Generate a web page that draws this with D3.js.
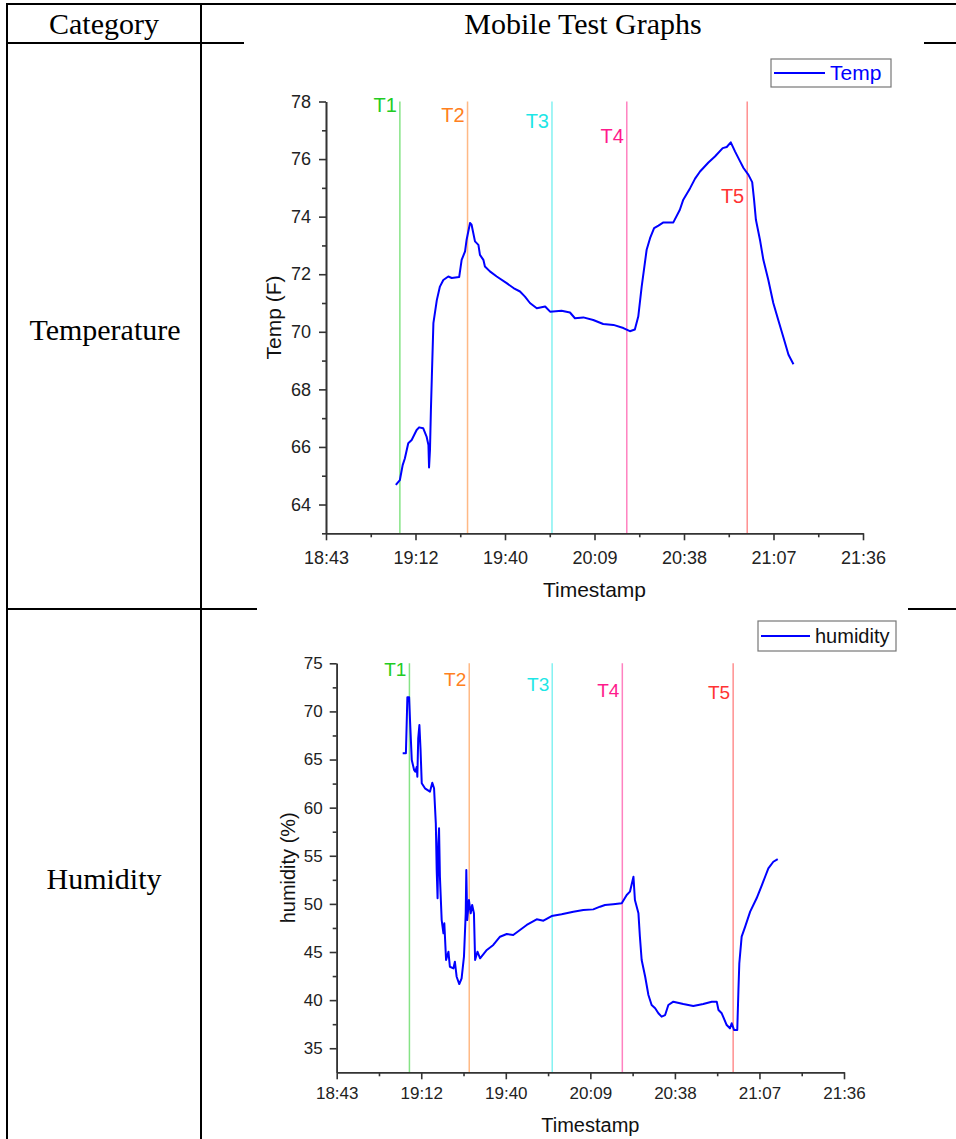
<!DOCTYPE html>
<html>
<head>
<meta charset="utf-8">
<script src="https://cdn.jsdelivr.net/npm/d3@7"></script>
<style>
  body { margin: 0; background: #fff; }
  svg { display: block; }
</style>
</head>
<body>
<div class="canvas"></div>
<script>
// time axis: minutes after 18:43
const spanMin = 173
const tickLabels = ['18:43', '19:12', '19:40', '20:09', '20:38', '21:07', '21:36']

const markNames = ['T1', 'T2', 'T3', 'T4', 'T5']
const markColors = ['#22cc22', '#ff8020', '#1ee6e6', '#ff1a8c', '#ff3333']
const tempMarkMin = [23.8, 45.6, 72.8, 96.9, 135.7]
const humMarkMin = [24.8, 45.2, 73.5, 97.4, 135.2]
// label baselines, in data units
const tempMarkLabelY = [77.64, 77.3, 77.09, 76.57, 74.49]
const humMarkLabelY = [73.68, 72.64, 72.12, 71.5, 71.3]

const tempMin = [22.5, 23.8, 24.7, 25.4, 26.5, 27.6, 29.2, 30.0, 31.3, 32.4, 33.0, 33.2, 33.5, 33.8, 34.1, 34.6,
  35.7, 36.7, 37.8, 39.4, 40.5, 42.9, 43.7, 44.8, 45.3, 46.4, 46.9, 48.0, 49.1, 49.6, 50.7, 51.2, 52.8,
  55.0, 58.2, 60.4, 62.5, 64.1, 65.7, 67.9, 70.6, 72.2, 75.9, 78.6, 80.2, 82.9, 86.1, 89.3, 92.6, 95.8,
  97.9, 99.5, 100.6, 101.7, 103.3, 104.4, 105.7, 107.1, 108.7, 111.9, 114.0, 115.1, 117.3, 118.9, 120.5,
  123.2, 125.3, 127.8, 129.1, 130.4, 131.8, 133.4, 134.5, 136.1, 137.3, 137.9, 138.5, 139.8, 140.9,
  142.5, 144.1, 145.7, 147.3, 149.0, 150.6]
const tempVal = [64.68, 64.85, 65.37, 65.6, 66.13, 66.24, 66.59, 66.68, 66.65, 66.36, 66.07, 65.29, 65.9, 67.29, 68.44, 70.3,
  71.1, 71.57, 71.8, 71.92, 71.87, 71.9, 72.5, 72.79, 73.2, 73.78, 73.72, 73.14, 73.02, 72.67, 72.5, 72.27, 72.1,
  71.92, 71.69, 71.52, 71.4, 71.22, 71.0, 70.82, 70.88, 70.7, 70.73, 70.67, 70.47, 70.5, 70.41, 70.27, 70.24, 70.13,
  70.02, 70.08, 70.53, 71.57, 72.85, 73.25, 73.6, 73.69, 73.8, 73.8, 74.24, 74.59, 74.99, 75.32, 75.57,
  75.88, 76.09, 76.38, 76.42, 76.58, 76.26, 75.92, 75.69, 75.45, 75.2, 74.59, 73.89, 73.2, 72.5,
  71.8, 71.0, 70.41, 69.83, 69.2, 68.87]

const humMin = [22.5, 23.6, 23.9, 24.1, 24.7, 25.0, 25.6, 26.4, 26.8, 27.3, 27.5, 27.8, 28.2, 28.6, 29.0, 30.1,
  31.8, 32.6, 33.2, 33.8, 34.1, 34.4, 34.65, 34.9, 35.2, 35.8, 36.4, 36.7, 37.3, 38.1, 38.6, 39.8, 40.3,
  40.9, 41.8, 42.6, 43.4, 44.0, 44.2, 44.5, 45.1, 45.7, 46.2, 46.8, 47.2, 48.0, 48.9, 51.2, 53.4, 55.7,
  58.0, 60.2, 62.5, 64.8, 68.2, 70.5, 73.3, 76.7, 80.7, 84.1, 87.5, 89.8, 91.5, 94.3, 97.2, 98.9, 100.0,
  100.8, 101.2, 101.7, 102.9, 103.4, 104.0, 105.2, 106.3, 107.4, 108.6, 109.7, 110.8, 112.0, 113.1,
  114.8, 118.2, 121.6, 125.0, 127.9, 129.6, 130.2, 131.3, 133.0, 134.1, 134.7, 135.5, 136.6, 137.0,
  137.3, 138.1, 139.3, 141.0, 143.2, 145.0, 146.1, 147.2, 148.9, 150.4]
const humVal = [65.65, 65.65, 69.1, 71.46, 71.46, 69.1, 64.95, 63.91, 63.73, 64.25, 63.21, 67.2, 68.59, 65.99, 62.53, 62.01,
  61.66, 62.59, 62.01, 58.37, 53.52, 50.58, 56.29, 57.85, 52.82, 48.32, 46.94, 47.98, 44.17, 45.03, 43.47, 43.3, 43.99,
  42.43, 41.67, 42.27, 44.51, 49.02, 53.52, 48.32, 50.4, 49.02, 49.88, 49.02, 44.17, 45.03, 44.35, 45.21, 45.73, 46.59,
  46.87, 46.77, 47.29, 47.81, 48.4, 48.25, 48.74, 48.92, 49.19, 49.36, 49.43, 49.71, 49.88, 49.96, 50.06, 50.92, 51.27,
  52.3, 52.82, 50.4, 49.02, 46.59, 44.17, 42.43, 40.53, 39.49, 39.15, 38.63, 38.28, 38.45, 39.49,
  39.84, 39.6, 39.39, 39.6, 39.84, 39.84, 38.97, 38.63, 37.41, 37.07, 37.59, 36.9, 36.9, 41.05,
  43.83, 46.59, 47.63, 49.19, 50.58, 51.96, 52.82, 53.7, 54.38, 54.66]

const width = 956
const height = 1139

const svg = d3.select('.canvas')
  .append('svg')
  .attr('width', width)
  .attr('height', height)

svg.append('rect').attr('width', width).attr('height', height).attr('fill', '#fff')

// table grid
const grid = svg.append('g')
  .attr('stroke', '#000')
  .attr('stroke-width', 2)
const seg = (x1, y1, x2, y2) => grid.append('line')
  .attr('x1', x1).attr('y1', y1).attr('x2', x2).attr('y2', y2)
seg(6, 4, 956, 4)
seg(7, 4, 7, 1139)
seg(201, 4, 201, 1139)
seg(6, 43, 244, 43)
seg(924, 43, 956, 43)
seg(6, 609, 257, 609)
seg(908, 609, 956, 609)

const serif = "'Liberation Serif', 'Times New Roman', serif"
const cell = (txt, x, y) => svg.append('text')
  .attr('x', x).attr('y', y)
  .attr('text-anchor', 'middle')
  .attr('font-family', serif)
  .attr('font-size', 30)
  .attr('fill', '#000')
  .text(txt)
cell('Category', 104, 34)
cell('Mobile Test Graphs', 583, 34)
cell('Temperature', 105, 340)
cell('Humidity', 104, 889)

const sans = "'Liberation Sans', Arial, sans-serif"

const drawPanel = cfg => {
  const g = svg.append('g')
  const x = d3.scaleLinear().domain([0, spanMin]).range([cfg.left, cfg.right])
  const y = d3.scaleLinear().domain(cfg.yDomain).range([cfg.bottom, cfg.top])

  // marker lines
  cfg.marks.forEach((m, i) => {
    g.append('line')
      .attr('x1', x(m)).attr('x2', x(m))
      .attr('y1', y(cfg.yDomain[1])).attr('y2', y(cfg.yDomain[0]))
      .attr('stroke', markColors[i])
      .attr('stroke-opacity', 0.55)
      .attr('stroke-width', 1.5)
    g.append('text')
      .attr('x', x(m) - 3)
      .attr('y', y(cfg.labelY[i]))
      .attr('text-anchor', 'end')
      .attr('font-family', sans)
      .attr('font-size', cfg.fs.mark)
      .attr('fill', markColors[i])
      .text(markNames[i])
  })

  const major = tickLabels.map((d, i) => i * spanMin / 6)
  const minor = major.slice(0, -1).map(d => d + spanMin / 12)

  const styleAxis = a => {
    a.select('.domain').attr('stroke', '#333').attr('stroke-width', 1.6)
    a.selectAll('.tick line').attr('stroke', '#333').attr('stroke-width', 1.6)
    a.selectAll('text').attr('fill', '#222').attr('font-family', sans).attr('font-size', cfg.fs.tick)
  }

  g.append('g')
    .attr('transform', `translate(0, ${cfg.bottom})`)
    .call(d3.axisBottom(x).tickValues(minor).tickSize(4).tickSizeOuter(0).tickFormat(''))
    .call(styleAxis)
  g.append('g')
    .attr('transform', `translate(0, ${cfg.bottom})`)
    .call(d3.axisBottom(x).tickValues(major).tickSize(7).tickSizeOuter(0)
      .tickPadding(cfg.xPad).tickFormat((d, i) => tickLabels[i]))
    .call(styleAxis)

  g.append('g')
    .attr('transform', `translate(${cfg.left}, 0)`)
    .call(d3.axisLeft(y).tickValues(cfg.yMinor).tickSize(4).tickSizeOuter(0).tickFormat(''))
    .call(styleAxis)
  g.append('g')
    .attr('transform', `translate(${cfg.left}, 0)`)
    .call(d3.axisLeft(y).tickValues(cfg.yMajor).tickSize(7).tickSizeOuter(0).tickPadding(cfg.yPad))
    .call(styleAxis)

  // data line
  const pts = cfg.xs.map((t, i) => [t, cfg.ys[i]])
  g.append('path')
    .datum(pts)
    .attr('fill', 'none')
    .attr('stroke', '#0000ff')
    .attr('stroke-width', 2)
    .attr('stroke-linejoin', 'round')
    .attr('d', d3.line().x(d => x(d[0])).y(d => y(d[1])))

  // axis titles
  g.append('text')
    .attr('x', (cfg.left + cfg.right) / 2)
    .attr('y', cfg.xTitleY)
    .attr('text-anchor', 'middle')
    .attr('font-family', sans)
    .attr('font-size', cfg.fs.title)
    .attr('fill', '#111')
    .text('Timestamp')
  g.append('text')
    .attr('transform', `translate(${cfg.yTitleX}, ${(cfg.top + cfg.bottom) / 2}) rotate(-90)`)
    .attr('text-anchor', 'middle')
    .attr('dy', '0.35em')
    .attr('font-family', sans)
    .attr('font-size', cfg.fs.title)
    .attr('fill', '#111')
    .text(cfg.yTitle)

  // legend
  const lg = cfg.legend
  g.append('rect')
    .attr('x', lg.x).attr('y', lg.y)
    .attr('width', lg.w).attr('height', lg.h)
    .attr('fill', '#fff')
    .attr('stroke', '#777')
    .attr('stroke-width', 1.2)
  g.append('line')
    .attr('x1', lg.x + 3).attr('x2', lg.x + 3 + lg.lineW)
    .attr('y1', lg.y + lg.h / 2).attr('y2', lg.y + lg.h / 2)
    .attr('stroke', '#0000ff')
    .attr('stroke-width', 2)
  g.append('text')
    .attr('x', lg.x + lg.lineW + 8)
    .attr('y', lg.y + lg.h / 2)
    .attr('dy', '0.35em')
    .attr('font-family', sans)
    .attr('font-size', cfg.fs.legend)
    .attr('fill', lg.color)
    .text(lg.label)
}

drawPanel({
  left: 326, right: 863, top: 101.5, bottom: 533.3,
  yDomain: [63, 78],
  yMajor: d3.range(64, 79, 2),
  yMinor: d3.range(63, 78, 2),
  xs: tempMin, ys: tempVal,
  marks: tempMarkMin, labelY: tempMarkLabelY,
  xPad: 11, yPad: 8,
  xTitleY: 597, yTitleX: 274, yTitle: 'Temp (F)',
  fs: { tick: 18, title: 21, legend: 21, mark: 20 },
  legend: { x: 771, y: 59, w: 120, h: 28, lineW: 51, label: 'Temp', color: '#0000ff' }
})

drawPanel({
  left: 336.7, right: 844, top: 663.3, bottom: 1072.3,
  yDomain: [32.5, 75],
  yMajor: d3.range(35, 76, 5),
  yMinor: d3.range(37.5, 75, 5),
  xs: humMin, ys: humVal,
  marks: humMarkMin, labelY: humMarkLabelY,
  xPad: 8, yPad: 7,
  xTitleY: 1132, yTitleX: 288, yTitle: 'humidity (%)',
  fs: { tick: 17, title: 20, legend: 20, mark: 19 },
  legend: { x: 758, y: 621, w: 138, h: 30, lineW: 49, label: 'humidity', color: '#111' }
})
</script>
</body>
</html>
